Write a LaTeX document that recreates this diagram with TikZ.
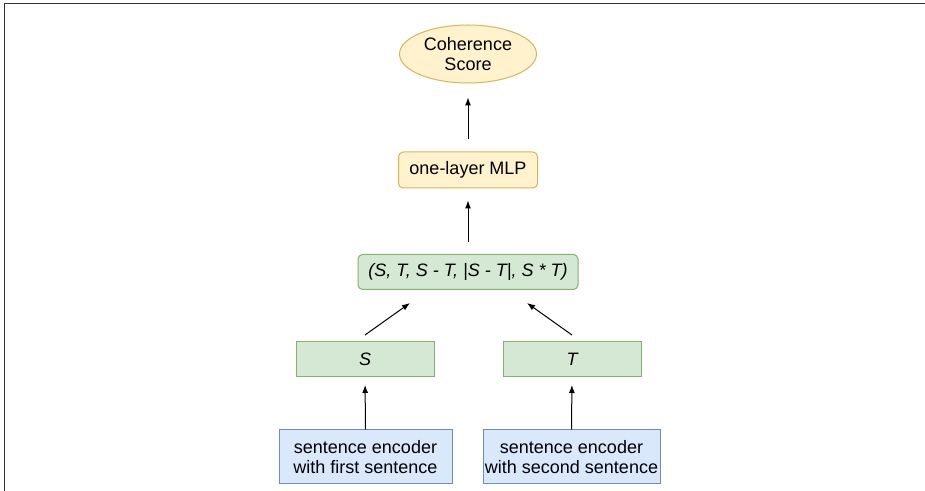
\documentclass[tikz,border=0pt]{standalone}
\usepackage{fontspec}
\setmainfont{Liberation Sans}
\usepackage{tikz}
\usetikzlibrary{shapes,arrows,arrows.meta}
\definecolor{yfill}{HTML}{FFF2CC}
\definecolor{ydraw}{HTML}{D6B656}
\definecolor{gfill}{HTML}{D5E8D4}
\definecolor{gdraw}{HTML}{82B366}
\definecolor{bfill}{HTML}{DAE8FC}
\definecolor{bdraw}{HTML}{6C8EBF}

\begin{document}
\begin{tikzpicture}[x=0.75pt,y=-0.75pt]
\tikzstyle{every node}=[font=\fontsize{13.5}{15.5}\selectfont, inner sep=0pt, align=center]
\tikzstyle{ybox}=[draw=ydraw, fill=yfill, line width=0.75pt]
\tikzstyle{gbox}=[draw=gdraw, fill=gfill, line width=0.75pt, minimum height=26.25pt]
\tikzstyle{bbox}=[draw=bdraw, fill=bfill, line width=0.75pt, minimum height=40.5pt]
\tikzstyle{arr}=[-{Latex[length=6pt,width=4.5pt]}, line width=0.75pt]
\useasboundingbox (0,0) rectangle (925,491);
% frame
\draw [line width=1.2pt, black!80] (4.5,491) -- (4.5,3.5) -- (925,3.5);
% nodes
\node [ybox, ellipse, minimum width=102.75pt, minimum height=43.5pt] (score) at (468,54) {Coherence\\Score};
\node [ybox, rounded corners=3.5pt, minimum width=104.25pt, minimum height=27pt] (mlp) at (468,170) {one-layer MLP};
\node [gbox, rounded corners=3.5pt, minimum width=165pt, font=\fontsize{13.5}{15.5}\selectfont\itshape] (concat) at (468,272) {(S, T, S - T, |S - T|, S * T)};
\node [gbox, minimum width=103.5pt, font=\fontsize{13.5}{15.5}\selectfont\itshape] (svec) at (365,359) {S};
\node [gbox, minimum width=103.5pt, font=\fontsize{13.5}{15.5}\selectfont\itshape] (tvec) at (572,359) {T};
\node [bbox, minimum width=129.75pt] (encs) at (365.5,457) {sentence encoder\\with first sentence};
\node [bbox, minimum width=132.75pt] (enct) at (571.5,457) {sentence encoder\\with second sentence};
% arrows
\draw [arr, shorten <=9pt, shorten >=10.5pt] (mlp.north) -- (score.south);
\draw [arr, shorten <=9pt, shorten >=9pt] (concat.north) -- (mlp.south);
\draw [arr] ([yshift=4.5pt]svec.north) -- ([xshift=-43.5pt,yshift=-9.75pt]concat.south);
\draw [arr] ([yshift=4.5pt]tvec.north) -- ([xshift=44.25pt,yshift=-9.75pt]concat.south);
\draw [arr, shorten >=6pt] (encs.north) -- (svec.south);
\draw [arr, shorten >=6pt] (enct.north) -- (tvec.south);
\end{tikzpicture}
\end{document}
